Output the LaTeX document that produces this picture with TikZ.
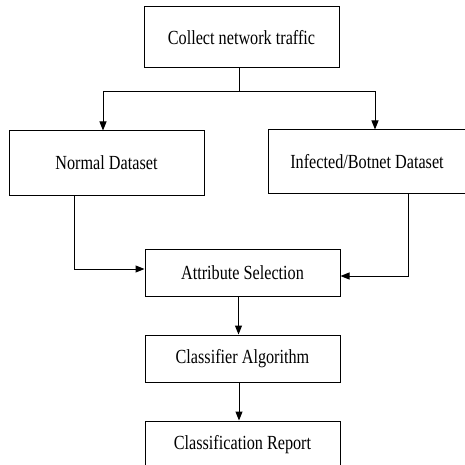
\documentclass[tikz,border=0pt]{standalone}
\usepackage{fontspec}
\setmainfont{Liberation Serif}[FakeStretch=0.81]
\usetikzlibrary{arrows.meta}
\begin{document}
\begin{tikzpicture}[x=1pt,y=-1pt,
  box/.style={draw, line width=1pt, rectangle, inner sep=0pt,
    minimum width=195pt, font=\fontsize{20}{24}\selectfont},
  link/.style={line width=1pt},
  arr/.style={line width=1pt, -{Triangle[length=9pt,width=7pt]}}]
\useasboundingbox (0,0) rectangle (465,465);
\clip (0,0) rectangle (465,465);

% process boxes
\node[box, minimum height=61pt] (collect) at (241.5,37.5) {Collect network traffic};
\node[box, minimum height=64pt] (normal) at (106.5,163) {Normal Dataset};
\node[box, minimum width=198pt, minimum height=63pt] (infected) at (367,161.5) {Infected/Botnet Dataset};
\node[box, minimum height=47pt] (attr) at (242.5,272.5) {Attribute Selection};
\node[box, minimum height=47pt] (classifier) at (242.5,358.5) {Classifier Algorithm};
\node[box, minimum height=47pt] (report) at (242.5,444.5) {Classification Report};

% split of the collected traffic
\coordinate (split) at (239,92);
\draw[link] ([xshift=-2.5pt]collect.south) -- (split);
\draw[arr] (split) -| ([xshift=-3.5pt]normal.north);
\draw[arr] (split) -| ([xshift=8pt]infected.north);

% both datasets feed the attribute selection
\draw[arr] ([xshift=-32.5pt]normal.south) |- ([yshift=3.5pt]attr.west);
\draw[arr] ([xshift=41pt]infected.south) |- ([yshift=-3.5pt]attr.east);

% pipeline
\draw[arr] ([xshift=-4pt]attr.south) -- ([xshift=-4pt]classifier.north);
\draw[arr] ([xshift=-3.5pt]classifier.south) -- ([xshift=-3.5pt]report.north);
\end{tikzpicture}
\end{document}
